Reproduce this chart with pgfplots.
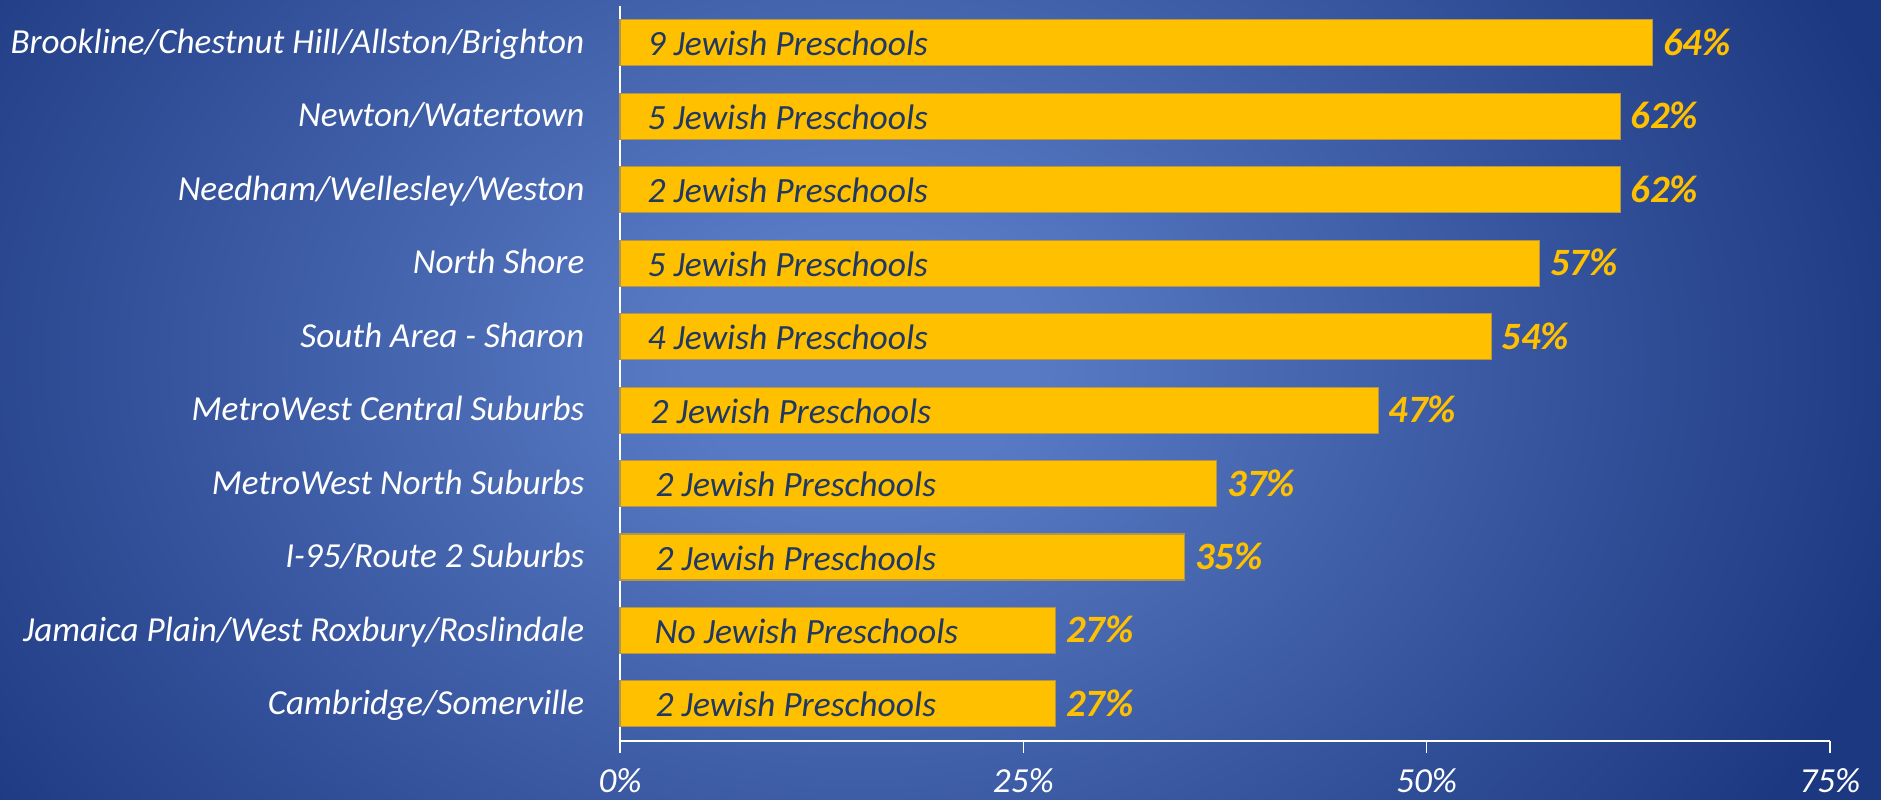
\documentclass[border=0pt]{standalone}
\usepackage{pgfplots}
\pgfplotsset{compat=1.18}
\usepackage{pgfplotstable}
\usepackage{fontspec}
\setmainfont{Carlito}
\definecolor{bgin}{RGB}{88,122,196}
\definecolor{bgout}{RGB}{28,56,128}
\definecolor{bargold}{RGB}{255,192,0}
\definecolor{barline}{RGB}{180,150,70}
\definecolor{navytext}{RGB}{31,56,100}
\pgfdeclareradialshading{bgshade}{\pgfpoint{0bp}{0bp}}{color(0bp)=(bgin); color(4bp)=(bgin); color(25bp)=(bgout); color(50bp)=(bgout)}
\pgfplotstableread{
y val tx label
9 64 1.67 {9 Jewish Preschools}
8 62 1.67 {5 Jewish Preschools}
7 62 1.67 {2 Jewish Preschools}
6 57 1.67 {5 Jewish Preschools}
5 54 1.67 {4 Jewish Preschools}
4 47 1.86 {2 Jewish Preschools}
3 37 2.17 {2 Jewish Preschools}
2 35 2.17 {2 Jewish Preschools}
1 27 2.11 {No Jewish Preschools}
0 27 2.17 {2 Jewish Preschools}
}\datatable
\begin{document}
\begin{tikzpicture}
\useasboundingbox (0,0) rectangle (188.1mm,80mm);
\fill[bgout] (0,0) rectangle (188.1mm,80mm);
\begin{scope}
\clip (0,0) rectangle (188.1mm,80mm);
\shade[shading=bgshade] (86mm,44mm) ellipse [x radius=108mm, y radius=82mm];
\end{scope}
\begin{axis}[
  at={(62mm,5.93mm)}, anchor=south west, scale only axis,
  width=121mm, height=73.47mm,
  xmin=0, xmax=75, ymin=-0.5, ymax=9.5,
  axis x line*=bottom, axis y line*=left,
  axis line style={white, line width=0.5pt},
  x axis line style={line width=0.6pt},
  xtick={0,25,50,75},
  xticklabels={0\%,25\%,50\%,75\%},
  xtick align=outside,
  major tick length=1.2mm,
  x tick style={white, line width=0.4pt},
  ytick={0,...,9},
  yticklabels={Cambridge/Somerville, Jamaica Plain/West Roxbury/Roslindale, I-95/Route 2 Suburbs, MetroWest North Suburbs, MetroWest Central Suburbs, South Area - Sharon, North Shore, Needham/Wellesley/Weston, Newton/Watertown, Brookline/Chestnut Hill/Allston/Brighton},
  y tick style={draw=none},
  xticklabel style={font=\fontsize{10}{12}\selectfont\itshape, text=white, inner sep=0pt, anchor=base, yshift=-4.0mm},
  yticklabel style={font=\fontsize{10}{12}\selectfont\itshape, text=white, inner sep=0pt, anchor=base east, xshift=-3.5mm, yshift=-1.07mm},
  clip=false,
]
\addplot[xbar, bar width=4.6mm, bar shift=0pt, fill=bargold, draw=barline, line width=0.3pt,
  nodes near coords={\pgfmathprintnumber[assume math mode=true]{\pgfplotspointmeta}\%},
  point meta=x,
  nodes near coords style={font=\fontsize{11}{13}\selectfont\bfseries\itshape, text=bargold, inner sep=0pt, anchor=base west, xshift=1.0mm, yshift=-1.25mm}
] table[x=val, y=y] {\datatable};
\addplot[draw=none, mark=none,
  nodes near coords, point meta=explicit symbolic,
  nodes near coords style={font=\fontsize{10.1}{12}\selectfont\itshape, text=navytext, inner sep=0pt, anchor=base west, yshift=-1.3mm}
] table[x=tx, y=y, meta=label] {\datatable};
\end{axis}
\end{tikzpicture}
\end{document}
